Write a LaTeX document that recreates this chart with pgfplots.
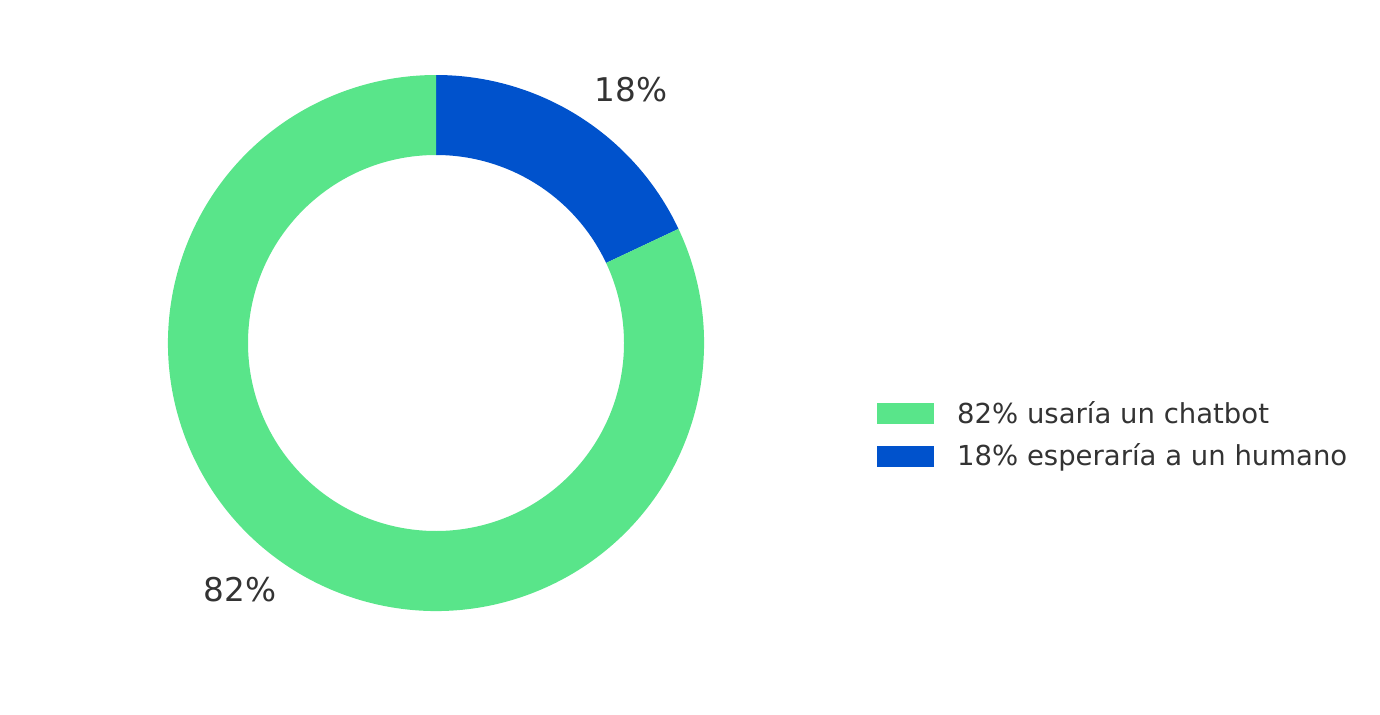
\documentclass[border=0pt]{standalone}
\usepackage{fontspec}
\setmainfont{DejaVu Sans}
\usepackage{pgfplots}
\usepackage{pgfplotstable}
\pgfplotsset{compat=1.18}
\definecolor{cgreen}{RGB}{89,229,138}
\definecolor{cblue}{RGB}{0,82,204}
\definecolor{tgray}{RGB}{51,51,51}
\pgfplotstableread{
share
82
18
}\donut
\begin{document}%
\begin{tikzpicture}
\pgfplotstablegetelem{0}{share}\of\donut \edef\shareA{\pgfplotsretval}
\pgfplotstablegetelem{1}{share}\of\donut \edef\shareB{\pgfplotsretval}
\pgfmathsetmacro{\angB}{90-3.6*\shareB}
\pgfmathsetmacro{\angEnd}{\angB-3.6*\shareA}
\begin{axis}[
  scale only axis, width=690bp, height=357.5bp,
  xmin=0, xmax=1380, ymin=0, ymax=715, y dir=reverse,
  axis lines=none, ticks=none, clip=false,
  legend style={draw=none, fill=none, at={(axis cs:877,402)}, anchor=north west,
    font=\fontsize{13.8}{17}\selectfont, text=tgray,
    row sep=8.25bp, inner sep=0pt,
    nodes={inner sep=0pt, text height=10.5bp, text depth=2.5bp},
    /tikz/every odd column/.append style={column sep=11.5bp}},
  legend cell align=left,
  legend image code/.code={\fill[#1] (0bp,-4bp) rectangle (28bp,6bp);},
]
\addlegendimage{cgreen}
\addlegendentry{82\% usaría un chatbot}
\addlegendimage{cblue}
\addlegendentry{18\% esperaría a un humano}
\fill[cblue] (axis cs:436,343) ++(90:134bp) arc[start angle=90, end angle=\angB, radius=134bp]
   -- ++(\angB+180:40bp) arc[start angle=\angB, end angle=90, radius=94bp] -- cycle;
\fill[cgreen] (axis cs:436,343) ++(\angB:134bp) arc[start angle=\angB, end angle=\angEnd, radius=134bp]
   -- ++(\angEnd+180:40bp) arc[start angle=\angEnd, end angle=\angB, radius=94bp] -- cycle;
\node[text=tgray, font=\fontsize{16.4}{20}\selectfont] at (axis cs:631,90) {18\%};
\node[text=tgray, font=\fontsize{16.4}{20}\selectfont] at (axis cs:240,590) {82\%};
\end{axis}
\pgfresetboundingbox
\path (0,0) rectangle (690bp,357.5bp);
\end{tikzpicture}%
\end{document}
